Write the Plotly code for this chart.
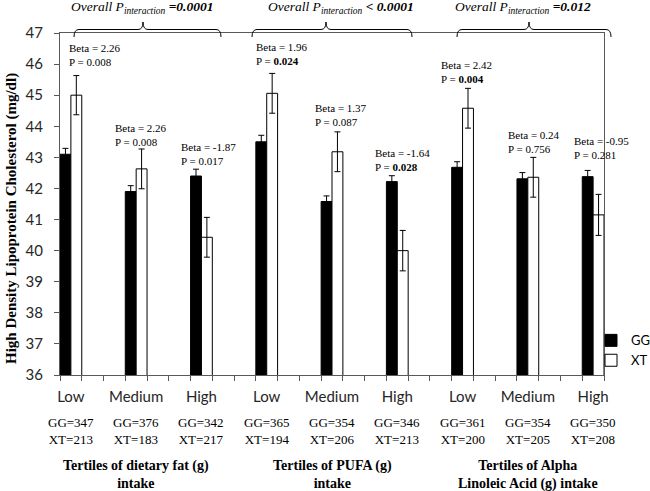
import plotly.graph_objects as go

# ---------------- data ----------------
tertile_labels = ["Low", "Medium", "High"] * 3
positions = [0, 3, 6, 9, 12, 15, 18, 21, 24]

gg_mean = [43.10, 41.90, 42.40, 43.50, 41.58, 42.22, 42.68, 42.31, 42.38]
gg_err = [0.19, 0.19, 0.22, 0.21, 0.18, 0.19, 0.18, 0.20, 0.20]
xt_mean = [45.00, 42.63, 40.43, 45.06, 43.18, 40.00, 44.58, 42.36, 41.15]
xt_err = [0.63, 0.64, 0.64, 0.64, 0.64, 0.65, 0.64, 0.64, 0.66]

gg_n = [347, 376, 342, 365, 354, 346, 361, 354, 350]
xt_n = [213, 183, 217, 194, 206, 213, 200, 205, 208]

beta_vals = ["2.26", "2.26", "-1.87", "1.96", "1.37", "-1.64", "2.42", "0.24", "-0.95"]
p_vals = ["0.008", "0.008", "0.017", "0.024", "0.087", "0.028", "0.004", "0.756", "0.281"]
p_bold = [False, False, False, True, False, True, True, False, False]

group_titles = ["Tertiles of dietary fat (g)<br>intake",
                "Tertiles of PUFA (g)<br>intake",
                "Tertiles of Alpha<br>Linoleic Acid (g) intake"]
group_centers = [3, 12, 21]
overall_p = ["=0.0001", "&lt; 0.0001", "=0.012"]
y_title = "High Density Lipoprotein Cholesterol (mg/dl)"

# ---------------- layout positions (not data) ----------------
beta_lab_x = [-0.18, 1.94, 4.97, 8.42, 11.13, 13.88, 16.92, 20.0, 23.03]
beta_lab_y = [46.28, 43.72, 43.12, 46.32, 44.35, 42.90, 45.73, 43.48, 43.29]
title_x = [3.3, 12.4, 20.8]
brace_px = [(74, 143, 221), (252, 326, 412), (457, 529, 611)]

L, R, T, B = 60, 604, 33, 375
W, H = 650, 491

SERIF = "Liberation Serif"
SANS = "Lato"
AXC = "#595959"


def px2x(px):
    return (px - L) / (R - L)


def py2y(py):
    return (B - py) / (B - T)


fig = go.Figure()
fig.add_trace(go.Bar(
    name="GG", x=positions, y=gg_mean,
    marker=dict(color="black", line=dict(color="black", width=1)),
    error_y=dict(type="data", array=gg_err, color="black", thickness=1, width=3),
))
fig.add_trace(go.Bar(
    name="XT", x=positions, y=xt_mean,
    marker=dict(color="white", line=dict(color="black", width=1)),
    error_y=dict(type="data", array=xt_err, color="black", thickness=1, width=3),
))

annotations = []
for x, y, b, p, bold in zip(beta_lab_x, beta_lab_y, beta_vals, p_vals, p_bold):
    ptxt = f"<b>{p}</b>" if bold else p
    annotations.append(dict(
        x=x, y=y, xref="x", yref="y", xanchor="left", yanchor="middle",
        text=f"Beta = {b}<br>P = {ptxt}", showarrow=False, align="left",
        font=dict(family=SERIF, size=11, color="black"),
    ))

for x, g, t in zip(positions, gg_n, xt_n):
    annotations.append(dict(
        x=x, y=py2y(431), xref="x", yref="paper", xanchor="center", yanchor="middle",
        text=f"GG={g}<br>XT={t}", showarrow=False,
        font=dict(family=SERIF, size=13, color="black"),
    ))

for x, t in zip(group_centers, group_titles):
    annotations.append(dict(
        x=x, y=py2y(475), xref="x", yref="paper", xanchor="center", yanchor="middle",
        text=f"<b>{t}</b>", showarrow=False,
        font=dict(family=SERIF, size=14, color="black"),
    ))

for x, p in zip(title_x, overall_p):
    annotations.append(dict(
        x=x, y=py2y(8), xref="x", yref="paper", xanchor="center", yanchor="middle",
        text=f"<i>Overall P<sub>interaction</sub> <b>{p}</b></i>", showarrow=False,
        font=dict(family=SERIF, size=13.5, color="black"),
    ))

annotations.append(dict(
    x=px2x(11), y=py2y(219), xref="paper", yref="paper", xanchor="center", yanchor="middle",
    text=f"<b>{y_title}</b>", textangle=-90, showarrow=False,
    font=dict(family=SERIF, size=15, color="black"),
))

shapes = []
yh, ye, yt = py2y(29.5), py2y(37), py2y(22)
d = 5 / (R - L)
for a, c, b in brace_px:
    x0, xc, x1 = px2x(a), px2x(c), px2x(b)
    path = (f"M {x0},{ye} Q {x0},{yh} {x0+d},{yh} L {xc-d},{yh} "
            f"Q {xc},{yh} {xc},{yt} Q {xc},{yh} {xc+d},{yh} "
            f"L {x1-d},{yh} Q {x1},{yh} {x1},{ye}")
    shapes.append(dict(type="path", path=path, xref="paper", yref="paper",
                       line=dict(color="black", width=1)))

fig.update_layout(
    width=W, height=H,
    margin=dict(l=L, r=W - R, t=T, b=H - B, autoexpand=False),
    paper_bgcolor="white", plot_bgcolor="white",
    barmode="group", bargap=2 / 3, bargroupgap=0,
    showlegend=True,
    legend=dict(x=px2x(591), xanchor="left", y=0.145, yanchor="top",
                font=dict(family=SANS, size=13, color="black"),
                bgcolor="rgba(0,0,0,0)", itemwidth=30, tracegroupgap=0),
    annotations=annotations, shapes=shapes,
    xaxis=dict(
        range=[-0.5, 24.5], tickmode="array", tickvals=positions, ticktext=tertile_labels,
        ticks="", showgrid=False, zeroline=False,
        showline=True, linecolor=AXC, linewidth=1, mirror=True,
        tickfont=dict(family=SANS, size=15, color="#262626"),
        ticklabelstandoff=8,
        minor=dict(tick0=-0.5, dtick=1, ticks="outside", ticklen=5, tickcolor=AXC, showgrid=False),
    ),
    yaxis=dict(
        range=[36, 47], dtick=1, ticks="outside", ticklen=5, tickcolor=AXC,
        showgrid=False, zeroline=False,
        showline=True, linecolor=AXC, linewidth=1, mirror=True,
        tickfont=dict(family=SANS, size=15, color="#262626"),
        ticklabelstandoff=8,
    ),
)

fig.write_html("out.html", config={"displayModeBar": False},
               post_script="document.body.style.margin='0';")
